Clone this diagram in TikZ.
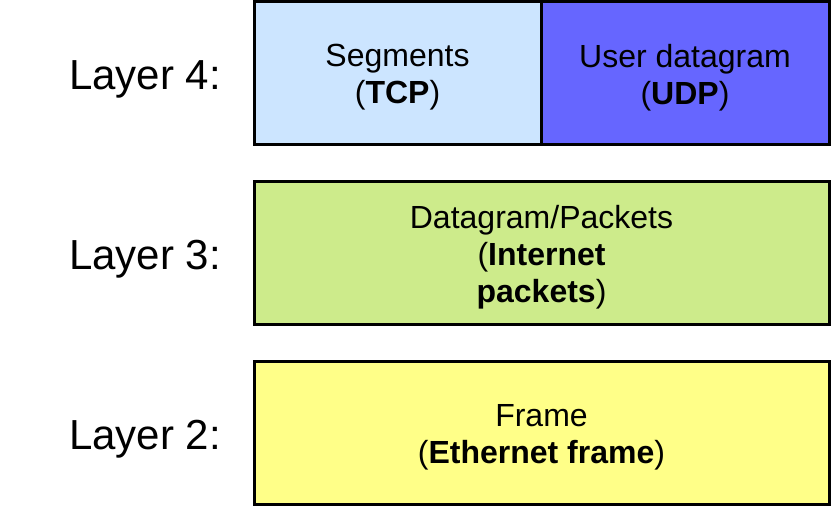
\documentclass[tikz,border=0pt]{standalone}
\usepackage{fontspec}
\setmainfont{Liberation Sans}
\definecolor{tcpblue}{RGB}{204,229,255}
\definecolor{udpblue}{RGB}{102,102,255}
\definecolor{ipgreen}{RGB}{205,235,139}
\definecolor{ethyellow}{RGB}{255,255,136}
\begin{document}
\begin{tikzpicture}[x=1pt,y=1pt,
  layerbox/.style={draw=black, line width=3pt, inner sep=0pt, outer sep=0pt,
    minimum height=143pt},
  boxtext/.style={align=center, inner sep=0pt, font=\fontsize{32}{37}\selectfont},
  layerlabel/.style={anchor=base east, inner sep=0pt, font=\fontsize{42}{48}\selectfont}]
\useasboundingbox (0,0) rectangle (836,508);
% Layer 4
\node[layerbox, fill=tcpblue, minimum width=287pt] (tcp) at (397.5,434.5) {};
\node[layerbox, fill=udpblue, minimum width=288pt] (udp) at (685,434.5) {};
\node[boxtext] (tcpt) at ([yshift=-4pt]tcp.center) {Segments\\(\textbf{TCP})};
\node[boxtext] (udpt) at ([yshift=-4pt]udp.center) {User datagram\\(\textbf{UDP})};
% Layer 3
\node[layerbox, fill=ipgreen, minimum width=575pt] (ip) at (541.5,254.5) {};
\node[boxtext] (ipt) at ([yshift=-4pt]ip.center) {Datagram/Packets\\(\textbf{Internet}\\\textbf{packets})};
% Layer 2
\node[layerbox, fill=ethyellow, minimum width=575pt] (eth) at (541.5,74.5) {};
\node[boxtext] (etht) at ([yshift=-4pt]eth.center) {Frame\\(\textbf{Ethernet frame})};
% Labels
\node[layerlabel] (l4) at (221,418) {Layer 4:};
\node[layerlabel] (l3) at (221,238) {Layer 3:};
\node[layerlabel] (l2) at (221,58) {Layer 2:};
\end{tikzpicture}
\end{document}
